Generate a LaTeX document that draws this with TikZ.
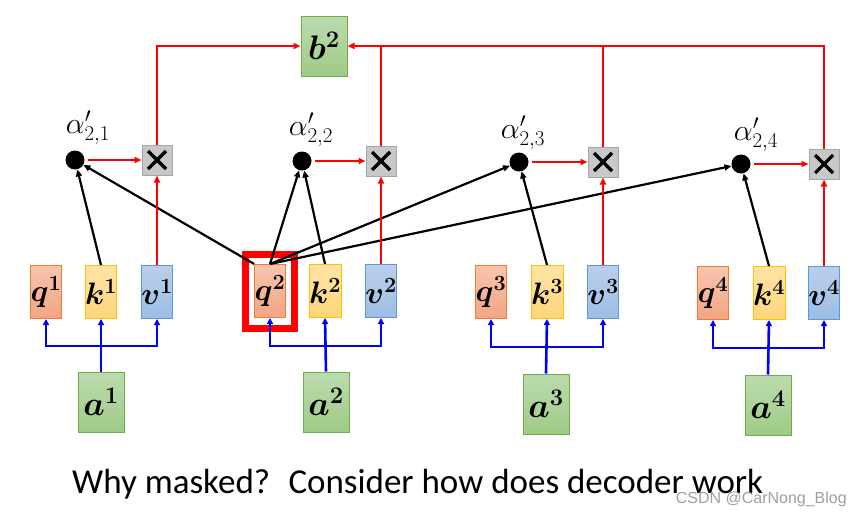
\RequirePackage{fix-cm}
\documentclass[tikz,border=0pt]{standalone}
\usepackage{amsmath}
\usepackage{amssymb}
\usepackage{xcolor}
\usepackage[no-math]{fontspec}
\newfontfamily\capfont{Carlito}
\newfontfamily\markfont{Liberation Sans}
\usepackage{tikz}
\usetikzlibrary{arrows.meta, positioning, calc}

\definecolor{qtop}{HTML}{F8C4AE}
\definecolor{qbot}{HTML}{F2A584}
\definecolor{qline}{HTML}{ED7D31}
\definecolor{ktop}{HTML}{FFE3A6}
\definecolor{kbot}{HTML}{FFD57A}
\definecolor{kline}{HTML}{FFC000}
\definecolor{vtop}{HTML}{B9D0EC}
\definecolor{vbot}{HTML}{9DBDE5}
\definecolor{vline}{HTML}{5B9BD5}
\definecolor{gtop}{HTML}{BCDBAE}
\definecolor{gbot}{HTML}{9ECB86}
\definecolor{gline}{HTML}{70AD47}
\definecolor{xfill}{HTML}{C8C8C8}
\definecolor{xline}{HTML}{A6A6A6}

\tikzset{
  vecbox/.style={line width=1, minimum width=28, minimum height=53, inner sep=0,
    font=\fontsize{31}{31}\selectfont\boldmath},
  qbox/.style={vecbox, draw=qline, top color=qtop, bottom color=qbot},
  kbox/.style={vecbox, draw=kline, top color=ktop, bottom color=kbot},
  vbox/.style={vecbox, draw=vline, top color=vtop, bottom color=vbot},
  inbox/.style={line width=1, draw=gline, top color=gtop, bottom color=gbot,
    minimum width=46, minimum height=60, inner sep=0,
    font=\fontsize{34}{34}\selectfont\boldmath},
  dotnode/.style={circle, fill=black, minimum size=19, inner sep=0},
  mulbox/.style={draw=xline, fill=xfill, line width=1, minimum size=30, inner sep=0,
    path picture={
      \draw[black, line width=3.2] ($(path picture bounding box.center)+(-9,-9)$) -- ($(path picture bounding box.center)+(9,9)$);
      \draw[black, line width=3.2] ($(path picture bounding box.center)+(-9,9)$) -- ($(path picture bounding box.center)+(9,-9)$);
    }},
  alabel/.style={font=\fontsize{30}{30}\selectfont},
  bluearr/.style={blue, line width=2.6, -{Triangle[length=6pt,width=6pt]}},
  redarr/.style={red, line width=2.2, -{Triangle[length=7pt,width=6pt]}},
  redline/.style={red, line width=2.2},
  blkarr/.style={black, line width=2.2, -{Triangle[length=7pt,width=6pt]}}
}

\begin{document}
\begin{tikzpicture}[x=1pt, y=-1pt]
  \useasboundingbox (0,0) rectangle (862,517);

  % output
  \node[inbox] (b2) at (324,46) {$b^2$};

  % group 1
  \node[qbox] (q1) at (46,292) {$q^1$};
  \node[kbox] (k1) at (101,292) {$k^1$};
  \node[vbox] (v1) at (157,292) {$v^1$};
  \node[inbox] (a1) at (101,402) {$a^1$};
  \node[dotnode] (d1) at (75,160) {};
  \node[mulbox] (x1) at (157,160) {};
  \node[alabel] (l1) at (88,128) {$\alpha'_{2,1}$};
  \coordinate (j1) at (101,346);

  % group 2
  \node[qbox] (q2) at (270,291) {$q^2$};
  \node[kbox] (k2) at (325,291) {$k^2$};
  \node[vbox] (v2) at (381,291) {$v^2$};
  \node[inbox] (a2) at (326,402) {$a^2$};
  \node[dotnode] (d2) at (302,161) {};
  \node[mulbox] (x2) at (381,161) {};
  \node[alabel] (l2) at (311,130) {$\alpha'_{2,2}$};
  \coordinate (j2) at (325,346);

  % group 3
  \node[qbox] (q3) at (491,292) {$q^3$};
  \node[kbox] (k3) at (547,292) {$k^3$};
  \node[vbox] (v3) at (603,292) {$v^3$};
  \node[inbox] (a3) at (546,404) {$a^3$};
  \node[dotnode] (d3) at (519,162) {};
  \node[mulbox] (x3) at (603,162) {};
  \node[alabel] (l3) at (523,133) {$\alpha'_{2,3}$};
  \coordinate (j3) at (547,347);

  % group 4
  \node[qbox] (q4) at (713,293) {$q^4$};
  \node[kbox] (k4) at (769,293) {$k^4$};
  \node[vbox] (v4) at (824,293) {$v^4$};
  \node[inbox] (a4) at (768,405) {$a^4$};
  \node[dotnode] (d4) at (741,164) {};
  \node[mulbox] (x4) at (824,164) {};
  \node[alabel] (l4) at (756,135) {$\alpha'_{2,4}$};
  \coordinate (j4) at (769,348);

  % highlight on q2
  \node[draw=red, line width=7, minimum width=49, minimum height=74, inner sep=0] (hl) at (270,291.5) {};

  % a -> q, k, v
  \foreach \i in {1,...,4} {
    \draw[bluearr] (a\i.north) -- (k\i.south);
    \draw[bluearr] (j\i) -| (q\i.south);
    \draw[bluearr] (j\i) -| (v\i.south);
  }

  % attention scores
  \draw[blkarr] (k1.north) -- (d1);
  \draw[blkarr] (q2.north west) -- (d1);
  \draw[blkarr] (q2.north) -- (d2);
  \draw[blkarr] (k2.north) -- (d2);
  \draw[blkarr] (q2.north) -- (d3);
  \draw[blkarr] (k3.north) -- (d3);
  \draw[blkarr] (q2.north) -- (d4);
  \draw[blkarr] (k4.north) -- (d4);

  % weighted values
  \foreach \i in {1,...,4} {
    \draw[redarr, shorten <=3pt] (d\i.east) -- (x\i.west);
    \draw[redarr] (v\i.north) -- (x\i.south);
  }

  % sum into b2
  \draw[redarr] (x1.north) |- (b2.west);
  \draw[redarr] (x4.north) |- (b2.east);
  \draw[redline] (x2.north) -- (x2.north |- b2.east);
  \draw[redline] (x3.north) -- (x3.north |- b2.east);

  % caption
  \node[anchor=base west, inner sep=0, font=\capfont\fontsize{35}{35}\selectfont] (cap) at (72,493) {Why masked?~ Consider how does decoder work};
  \node[anchor=base east, inner sep=0, text=gray!75, font=\markfont\fontsize{16}{16}\selectfont] (mark) at (847,503) {CSDN @CarNong\_Blog};
\end{tikzpicture}
\end{document}
